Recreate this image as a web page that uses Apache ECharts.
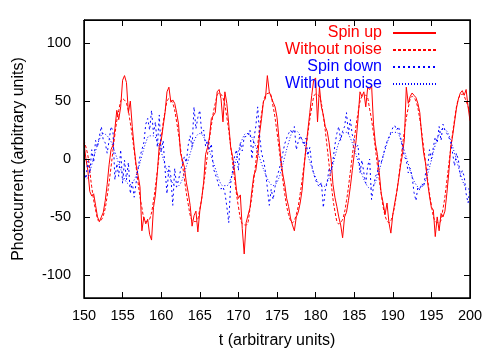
<!DOCTYPE html>
<html><head><meta charset="utf-8">
<script src="https://cdn.jsdelivr.net/npm/echarts@6/dist/echarts.min.js"></script>
<style>html,body{margin:0;padding:0;background:#fff}#c,#f{position:absolute;left:0;top:0;width:498px;height:349px}#f{pointer-events:none}</style>
</head><body><div id="c"></div><div id="f"></div>
<script>
const tStart = 150;
const noisyStep = 0.25;
const cleanStep = 0.5;
const xMin = 150, xMax = 200, yMin = -120, yMax = 120;

// Spin up (noisy), t = 150 .. 200 step 0.25
const spinUp = [
  14, 0, -10, -28,
  -32, -30, -40, -50,
  -54, -50, -46, -36,
  -22, -5, 8, 12,
  26, 42, 34, 45,
  68, 72, 66, 40,
  50, 28, 10, -5,
  -14, -24, -62, -50,
  -56, -52, -65, -70,
  -42, -31, -12, 12,
  16, 28, 40, 58,
  62, 49, 51, 48,
  40, 30, 5, 4,
  -7, -20, -29, -40,
  -58, -49, -45, -63,
  -45, -34, -20, 4,
  10, 19, 35, 36,
  40, 58, 60, 52,
  32, 58, 48, 30,
  10, 2, -10, -27,
  -34, -31, -60, -82,
  -55, -55, -42, -27,
  -14, -10, 2, 22,
  35, 50, 52, 72,
  58, 58, 49, 45,
  36, 18, 0, -13,
  -22, -34, -41, -51,
  -57, -62, -50, -46,
  -38, -27, -8, 10,
  25, 40, 55, 68,
  70, 32, 62, 45,
  38, 28, 24, 14,
  0, -22, -33, -41,
  -50, -57, -68, -50,
  -46, -36, -24, -10,
  4, 16, 35, 58,
  54, 58, 45, 62,
  60, 64, 30, 13,
  4, -12, -30, -38,
  -48, -38, -55, -64,
  -48, -38, -29, -18,
  -6, 4, 17, 62,
  48, 54, 57, 55,
  53, 48, 40, 20,
  5, -4, -20, -32,
  -42, -44, -67, -50,
  -62, -47, -50, -45,
  -30, -12, 10, 20,
  32, 44, 52, 57,
  59, 55, 60, 45,
  33
];

// Spin up without noise, t = 150 .. 200 step 0.5
const spinUpClean = [
  16, 3, -24, -44, -54, -49, -32, -7, 21, 42,
  52, 48, 31, 7, -20, -42, -54, -52, -36, -10,
  18, 41, 52, 48, 32, 9, -17, -39, -53, -54,
  -43, -22, 4, 29, 48, 57, 53, 36, 11, -17,
  -41, -56, -57, -43, -18, 12, 39, 55, 57, 45,
  23, -4, -30, -48, -55, -48, -30, -5, 22, 44,
  56, 54, 37, 10, -20, -45, -56, -52, -36, -11,
  16, 40, 54, 55, 43, 22, -5, -30, -49, -55,
  -48, -29, -3, 24, 44, 54, 50, 34, 10, -17,
  -40, -54, -55, -43, -19, 9, 34, 52, 56, 50,
  40
];

// Spin down (noisy), t = 150 .. 200 step 0.25
const spinDown = [
  -10, -17, -2, -12,
  8, -3, 16, 10,
  20, 28, 16, 14,
  5, 16, 28, 24,
  -18, -4, -15, 8,
  -21, -1, -18, -3,
  -30, -20, -33, -34,
  -8, 2, 8, 14,
  30, 35, 25, 42,
  22, 32, 10, 38,
  6, 16, -9, -30,
  -6, -15, -40, -8,
  -24, -18, -10, -4,
  2, -3, 12, 20,
  10, 45, 26, 36,
  42, 22, 25, 11,
  16, 8, 13, -8,
  -7, -18, -24, -26,
  -24, -29, -41, -55,
  -21, -10, 2, 8,
  -10, 14, 7, 19,
  20, 20, 25, 0,
  17, 28, 45, 20,
  5, -1, -10, -25,
  -40, -26, -35, -24,
  -15, -10, -3, 5,
  13, 18, 22, 25,
  22, 28, 8, 15,
  20, 20, 12, 18,
  3, 10, -5, -13,
  -18, -22, -24, -20,
  -42, -27, -20, -8,
  -11, -1, 12, 22,
  28, 16, 24, 28,
  40, 22, 34, 21,
  16, 10, 12, -12,
  -1, -12, -21, -6,
  0, -35, -24, -15,
  -12, -1, -3, 3,
  10, 15, 19, 23,
  27, 29, 25, 28,
  19, 10, 2, -1,
  -12, -8, -15, -29,
  -36, -24, -27, -21,
  -24, -12, -9, 8,
  0, 10, 19, 14,
  28, 16, 30, 25,
  22, 19, 14, 5,
  -6, 5, -1, -15,
  -10, -15, -30, -38,
  -25
];

// Spin down without noise, t = 150 .. 200 step 0.5
const spinDownClean = [
  -18, -16, -5, 7, 17, 22, 20, 15, 6, -4,
  -13, -20, -22, -18, -9, 3, 14, 20, 20, 15,
  6, -5, -14, -21, -24, -21, -12, -1, 10, 19,
  22, 19, 12, 2, -8, -18, -23, -23, -17, -6,
  7, 17, 22, 21, 15, 6, -4, -13, -20, -23,
  -20, -11, 2, 14, 23, 24, 20, 13, 3, -7,
  -16, -22, -24, -20, -11, 2, 14, 22, 23, 18,
  9, -2, -13, -21, -25, -23, -15, -4, 8, 18,
  23, 23, 17, 7, -4, -15, -22, -25, -22, -13,
  -1, 12, 21, 26, 24, 16, 5, -7, -18, -25,
  -26
];

const xTicks = [150, 155, 160, 165, 170, 175, 180, 185, 190, 195, 200];
const yTicks = [-100, -50, 0, 50, 100];
const seriesKeys = ['spinUp', 'spinUpClean', 'spinDown', 'spinDownClean'];
const seriesLabels = ['Spin up', 'Without noise', 'Spin down', 'Without noise'];
const legendColors = ['#ff0000', '#ff0000', '#0000ff', '#0000ff'];

const FONT = '"Liberation Sans", Arial, Helvetica, sans-serif';
const TICK_LEN = 6;
function toPairs(arr, step) { return arr.map((v, i) => [tStart + i * step, v]); }
function tick(values) { return { show: true, inside: true, length: TICK_LEN, customValues: values, lineStyle: { color: '#000', width: 1 } }; }
function line() { return { show: true, onZero: false, lineStyle: { color: '#000', width: 1 } }; }
const GRID = { left: 84, right: 28, top: 20, bottom: 51 };

// Main chart: data lines, legend, labels and axis titles
const chart = echarts.init(document.getElementById('c'), null, { renderer: 'canvas' });
chart.setOption({
  animation: false,
  grid: Object.assign({ show: true, borderColor: '#000', borderWidth: 1, outerBoundsMode: 'none', containLabel: false }, GRID),
  legend: {
    orient: 'vertical',
    right: 56,
    top: 20,
    align: 'right',
    itemWidth: 43,
    itemHeight: 14,
    itemGap: 1,
    itemStyle: { color: 'rgba(0,0,0,0)', borderWidth: 0, opacity: 0 },
    textStyle: { fontSize: 16, fontFamily: FONT, padding: [0, 6, 0, 0] },
    formatter: function (n) { return seriesLabels[seriesKeys.indexOf(n)]; },
    data: seriesKeys.map((k, i) => ({ name: k, textStyle: { color: legendColors[i] } }))
  },
  xAxis: [
    {
      type: 'value', min: xMin, max: xMax, interval: 5, position: 'bottom',
      axisLine: line(),
      axisTick: { show: true, inside: true, length: TICK_LEN, lineStyle: { color: '#000', width: 1 } },
      axisLabel: { color: '#000', fontSize: 14.5, fontFamily: FONT, margin: 10 },
      splitLine: { show: false },
      name: 't (arbitrary units)', nameLocation: 'middle', nameGap: 35,
      nameTextStyle: { color: '#000', fontSize: 16, fontFamily: FONT }
    },
    {
      type: 'value', min: xMin, max: xMax, position: 'top',
      axisLine: line(), axisTick: tick(xTicks), axisLabel: { show: false }, splitLine: { show: false }
    }
  ],
  yAxis: [
    {
      type: 'value', min: yMin, max: yMax, position: 'left',
      axisLine: line(), axisTick: tick(yTicks),
      axisLabel: { customValues: yTicks, color: '#000', fontSize: 14.5, fontFamily: FONT, margin: 13 },
      splitLine: { show: false },
      name: 'Photocurrent (arbitrary units)', nameLocation: 'middle', nameGap: 57,
      nameTextStyle: { color: '#000', fontSize: 16, fontFamily: FONT }
    },
    {
      type: 'value', min: yMin, max: yMax, position: 'right',
      axisLine: line(), axisTick: tick(yTicks), axisLabel: { show: false }, splitLine: { show: false }
    }
  ],
  series: [
    {
      name: 'spinUp', type: 'line', data: toPairs(spinUp, noisyStep),
      symbol: 'none', showSymbol: false,
      lineStyle: { color: '#ff0000', width: 1 }, itemStyle: { color: '#ff0000' }
    },
    {
      name: 'spinUpClean', type: 'line', data: toPairs(spinUpClean, cleanStep),
      symbol: 'none', showSymbol: false, smooth: 0.4,
      lineStyle: { color: '#ff0000', width: 1, type: [3, 2] }, itemStyle: { color: '#ff0000' }
    },
    {
      name: 'spinDown', type: 'line', data: toPairs(spinDown, noisyStep),
      symbol: 'none', showSymbol: false,
      lineStyle: { color: '#0000ff', width: 1, type: [2, 3] }, itemStyle: { color: '#0000ff' }
    },
    {
      name: 'spinDownClean', type: 'line', data: toPairs(spinDownClean, cleanStep),
      symbol: 'none', showSymbol: false, smooth: 0.4,
      lineStyle: { color: '#0000ff', width: 1, type: [1, 2] }, itemStyle: { color: '#0000ff' }
    }
  ]
});

// Overlay chart: the plot frame with mirrored inward ticks (same grid and scales)
const frame = echarts.init(document.getElementById('f'), null, { renderer: 'canvas' });
const hiddenLabel = { color: 'rgba(0,0,0,0)', fontSize: 14.5, fontFamily: FONT };
frame.setOption({
  animation: false,
  backgroundColor: 'transparent',
  grid: Object.assign({ show: true, borderColor: '#000', borderWidth: 1 }, GRID),
  xAxis: [
    {
      type: 'value', min: xMin, max: xMax, interval: 5, position: 'bottom',
      axisLine: line(),
      axisTick: { show: true, inside: true, length: TICK_LEN, lineStyle: { color: '#000', width: 1 } },
      axisLabel: Object.assign({ margin: 10 }, hiddenLabel),
      splitLine: { show: false }
    },
    {
      type: 'value', min: xMin, max: xMax, position: 'top',
      axisLine: line(), axisTick: tick(xTicks), axisLabel: { show: false }, splitLine: { show: false }
    }
  ],
  yAxis: [
    {
      type: 'value', min: yMin, max: yMax, position: 'left',
      axisLine: line(), axisTick: tick(yTicks),
      axisLabel: Object.assign({ customValues: yTicks, margin: 13 }, hiddenLabel),
      splitLine: { show: false }
    },
    {
      type: 'value', min: yMin, max: yMax, position: 'right',
      axisLine: line(), axisTick: tick(yTicks), axisLabel: { show: false }, splitLine: { show: false }
    }
  ],
  series: [{ type: 'line', data: [], symbol: 'none' }]
});
</script>
</body></html>
